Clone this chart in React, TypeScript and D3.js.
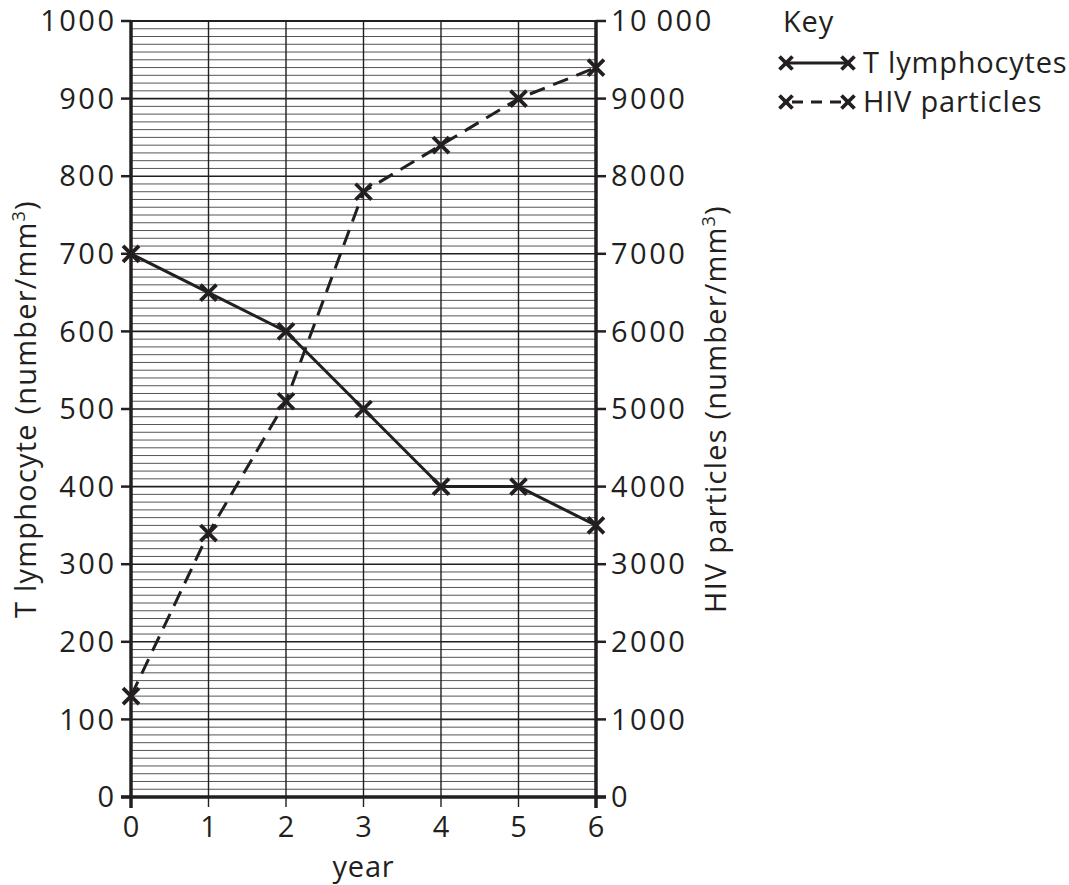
import React from "react";
import * as d3 from "d3";

const years = [0, 1, 2, 3, 4, 5, 6];
const tLymphocytes = [700, 650, 600, 500, 400, 400, 350];
const hivParticles = [1300, 3400, 5100, 7800, 8400, 9000, 9400];
const leftTicks = [0, 100, 200, 300, 400, 500, 600, 700, 800, 900, 1000];
const rightTicks = [0, 1000, 2000, 3000, 4000, 5000, 6000, 7000, 8000, 9000, 10000];
const rightTickLabels = ["0", "1000", "2000", "3000", "4000", "5000", "6000", "7000", "8000", "9000", "10\u2009000"];
const minorTicks = d3.range(0, 1001, 10);

const FONT = "'Open Sans', sans-serif";
const FS = 29;
const NUM_LS = 2.5;
const TXT_LS = 0.8;

function Cross({ x, y, s = 8 }: { x: number; y: number; s?: number }) {
  return (
    <g stroke="#231f20" strokeWidth={3.8} strokeLinecap="butt">
      <line x1={x - s} y1={y - s} x2={x + s} y2={y + s} />
      <line x1={x - s} y1={y + s} x2={x + s} y2={y - s} />
    </g>
  );
}

export default function App() {
  const x = d3.scaleLinear().domain([0, 6]).range([131, 596]);
  const yL = d3.scaleLinear().domain([0, 1000]).range([797, 21]);
  const yR = d3.scaleLinear().domain([0, 10000]).range([797, 21]);
  const lineL = d3.line<number>().x((_, i) => x(years[i])).y((d) => yL(d));
  const lineR = d3.line<number>().x((_, i) => x(years[i])).y((d) => yR(d));
  const ink = "#231f20";

  return (
    <svg width={1069} height={885} style={{ position: "absolute", left: 0, top: 0 }} fontFamily={FONT}>
      <rect width={1069} height={885} fill="#fff" />
      {minorTicks.filter((v) => v % 100 !== 0).map((v) => (
        <line key={"m" + v} x1={x(0)} x2={x(6)} y1={yL(v)} y2={yL(v)} stroke="#555" strokeWidth={1} />
      ))}
      {leftTicks.map((v) => (
        <line key={"M" + v} x1={x(0)} x2={x(6)} y1={yL(v)} y2={yL(v)} stroke={ink} strokeWidth={1.6} />
      ))}
      {years.map((v) => (
        <line key={"v" + v} x1={x(v)} x2={x(v)} y1={yL(1000)} y2={yL(0) + 10} stroke={ink} strokeWidth={1.4} />
      ))}
      <line x1={x(0)} x2={x(0)} y1={yL(1000) - 1} y2={yL(0) + 11} stroke={ink} strokeWidth={3.5} />
      <line x1={x(6)} x2={x(6)} y1={yL(1000) - 1} y2={yL(0) + 11} stroke={ink} strokeWidth={3.5} />
      <line x1={x(0) - 10} x2={x(6) + 10} y1={yL(0)} y2={yL(0)} stroke={ink} strokeWidth={3.5} />
      <line x1={x(0)} x2={x(6)} y1={yL(1000)} y2={yL(1000)} stroke={ink} strokeWidth={2} />
      {leftTicks.map((v) => (
        <g key={"lt" + v}>
          <line x1={x(0) - 10} x2={x(0)} y1={yL(v)} y2={yL(v)} stroke={ink} strokeWidth={2.5} />
          <text x={x(0) - 17 + NUM_LS} y={yL(v)} dy="0.35em" textAnchor="end" fontSize={FS} letterSpacing={NUM_LS} fill={ink}>{v}</text>
        </g>
      ))}
      {rightTicks.map((v, i) => (
        <g key={"rt" + v}>
          <line x1={x(6)} x2={x(6) + 10} y1={yR(v)} y2={yR(v)} stroke={ink} strokeWidth={2.5} />
          <text x={x(6) + 15} y={yR(v)} dy="0.35em" textAnchor="start" fontSize={FS} letterSpacing={NUM_LS} fill={ink}>{rightTickLabels[i]}</text>
        </g>
      ))}
      {years.map((v) => (
        <text key={"xt" + v} x={x(v)} y={yL(0) + 30} dy="0.35em" textAnchor="middle" fontSize={FS} fill={ink}>{v}</text>
      ))}
      <text x={(x(0) + x(6)) / 2} y={yL(0) + 70} dy="0.35em" textAnchor="middle" fontSize={FS} letterSpacing={TXT_LS} fill={ink}>year</text>
      <text transform={`translate(36,${yL(500)}) rotate(-90)`} textAnchor="middle" fontSize={FS} letterSpacing={TXT_LS + 0.4} fill={ink}>
        T lymphocyte (number/mm<tspan dy={-11} fontSize={18}>3</tspan><tspan dy={11}>)</tspan>
      </text>
      <text transform={`translate(726,${yL(500)}) rotate(-90)`} textAnchor="middle" fontSize={FS} letterSpacing={TXT_LS + 0.4} fill={ink}>
        HIV particles (number/mm<tspan dy={-11} fontSize={18}>3</tspan><tspan dy={11}>)</tspan>
      </text>
      <path d={lineL(tLymphocytes) || ""} fill="none" stroke={ink} strokeWidth={3} />
      <path d={lineR(hivParticles) || ""} fill="none" stroke={ink} strokeWidth={3} strokeDasharray="16 9" />
      {tLymphocytes.map((v, i) => <Cross key={"c1" + i} x={x(years[i])} y={yL(v)} />)}
      {hivParticles.map((v, i) => <Cross key={"c2" + i} x={x(years[i])} y={yR(v)} />)}
      <text x={783} y={22} dy="0.35em" fontSize={FS} letterSpacing={TXT_LS} fill={ink}>Key</text>
      <line x1={786} x2={848} y1={63} y2={63} stroke={ink} strokeWidth={3} />
      <Cross x={786} y={63} s={6.5} />
      <Cross x={848} y={63} s={6.5} />
      <text x={863} y={63} dy="0.35em" fontSize={FS} letterSpacing={TXT_LS} fill={ink}>T lymphocytes</text>
      <line x1={786} x2={848} y1={102} y2={102} stroke={ink} strokeWidth={3} strokeDasharray="11 8" strokeDashoffset={-6} />
      <Cross x={786} y={102} s={6.5} />
      <Cross x={848} y={102} s={6.5} />
      <text x={863} y={102} dy="0.35em" fontSize={FS} letterSpacing={TXT_LS} fill={ink}>HIV particles</text>
    </svg>
  );
}
